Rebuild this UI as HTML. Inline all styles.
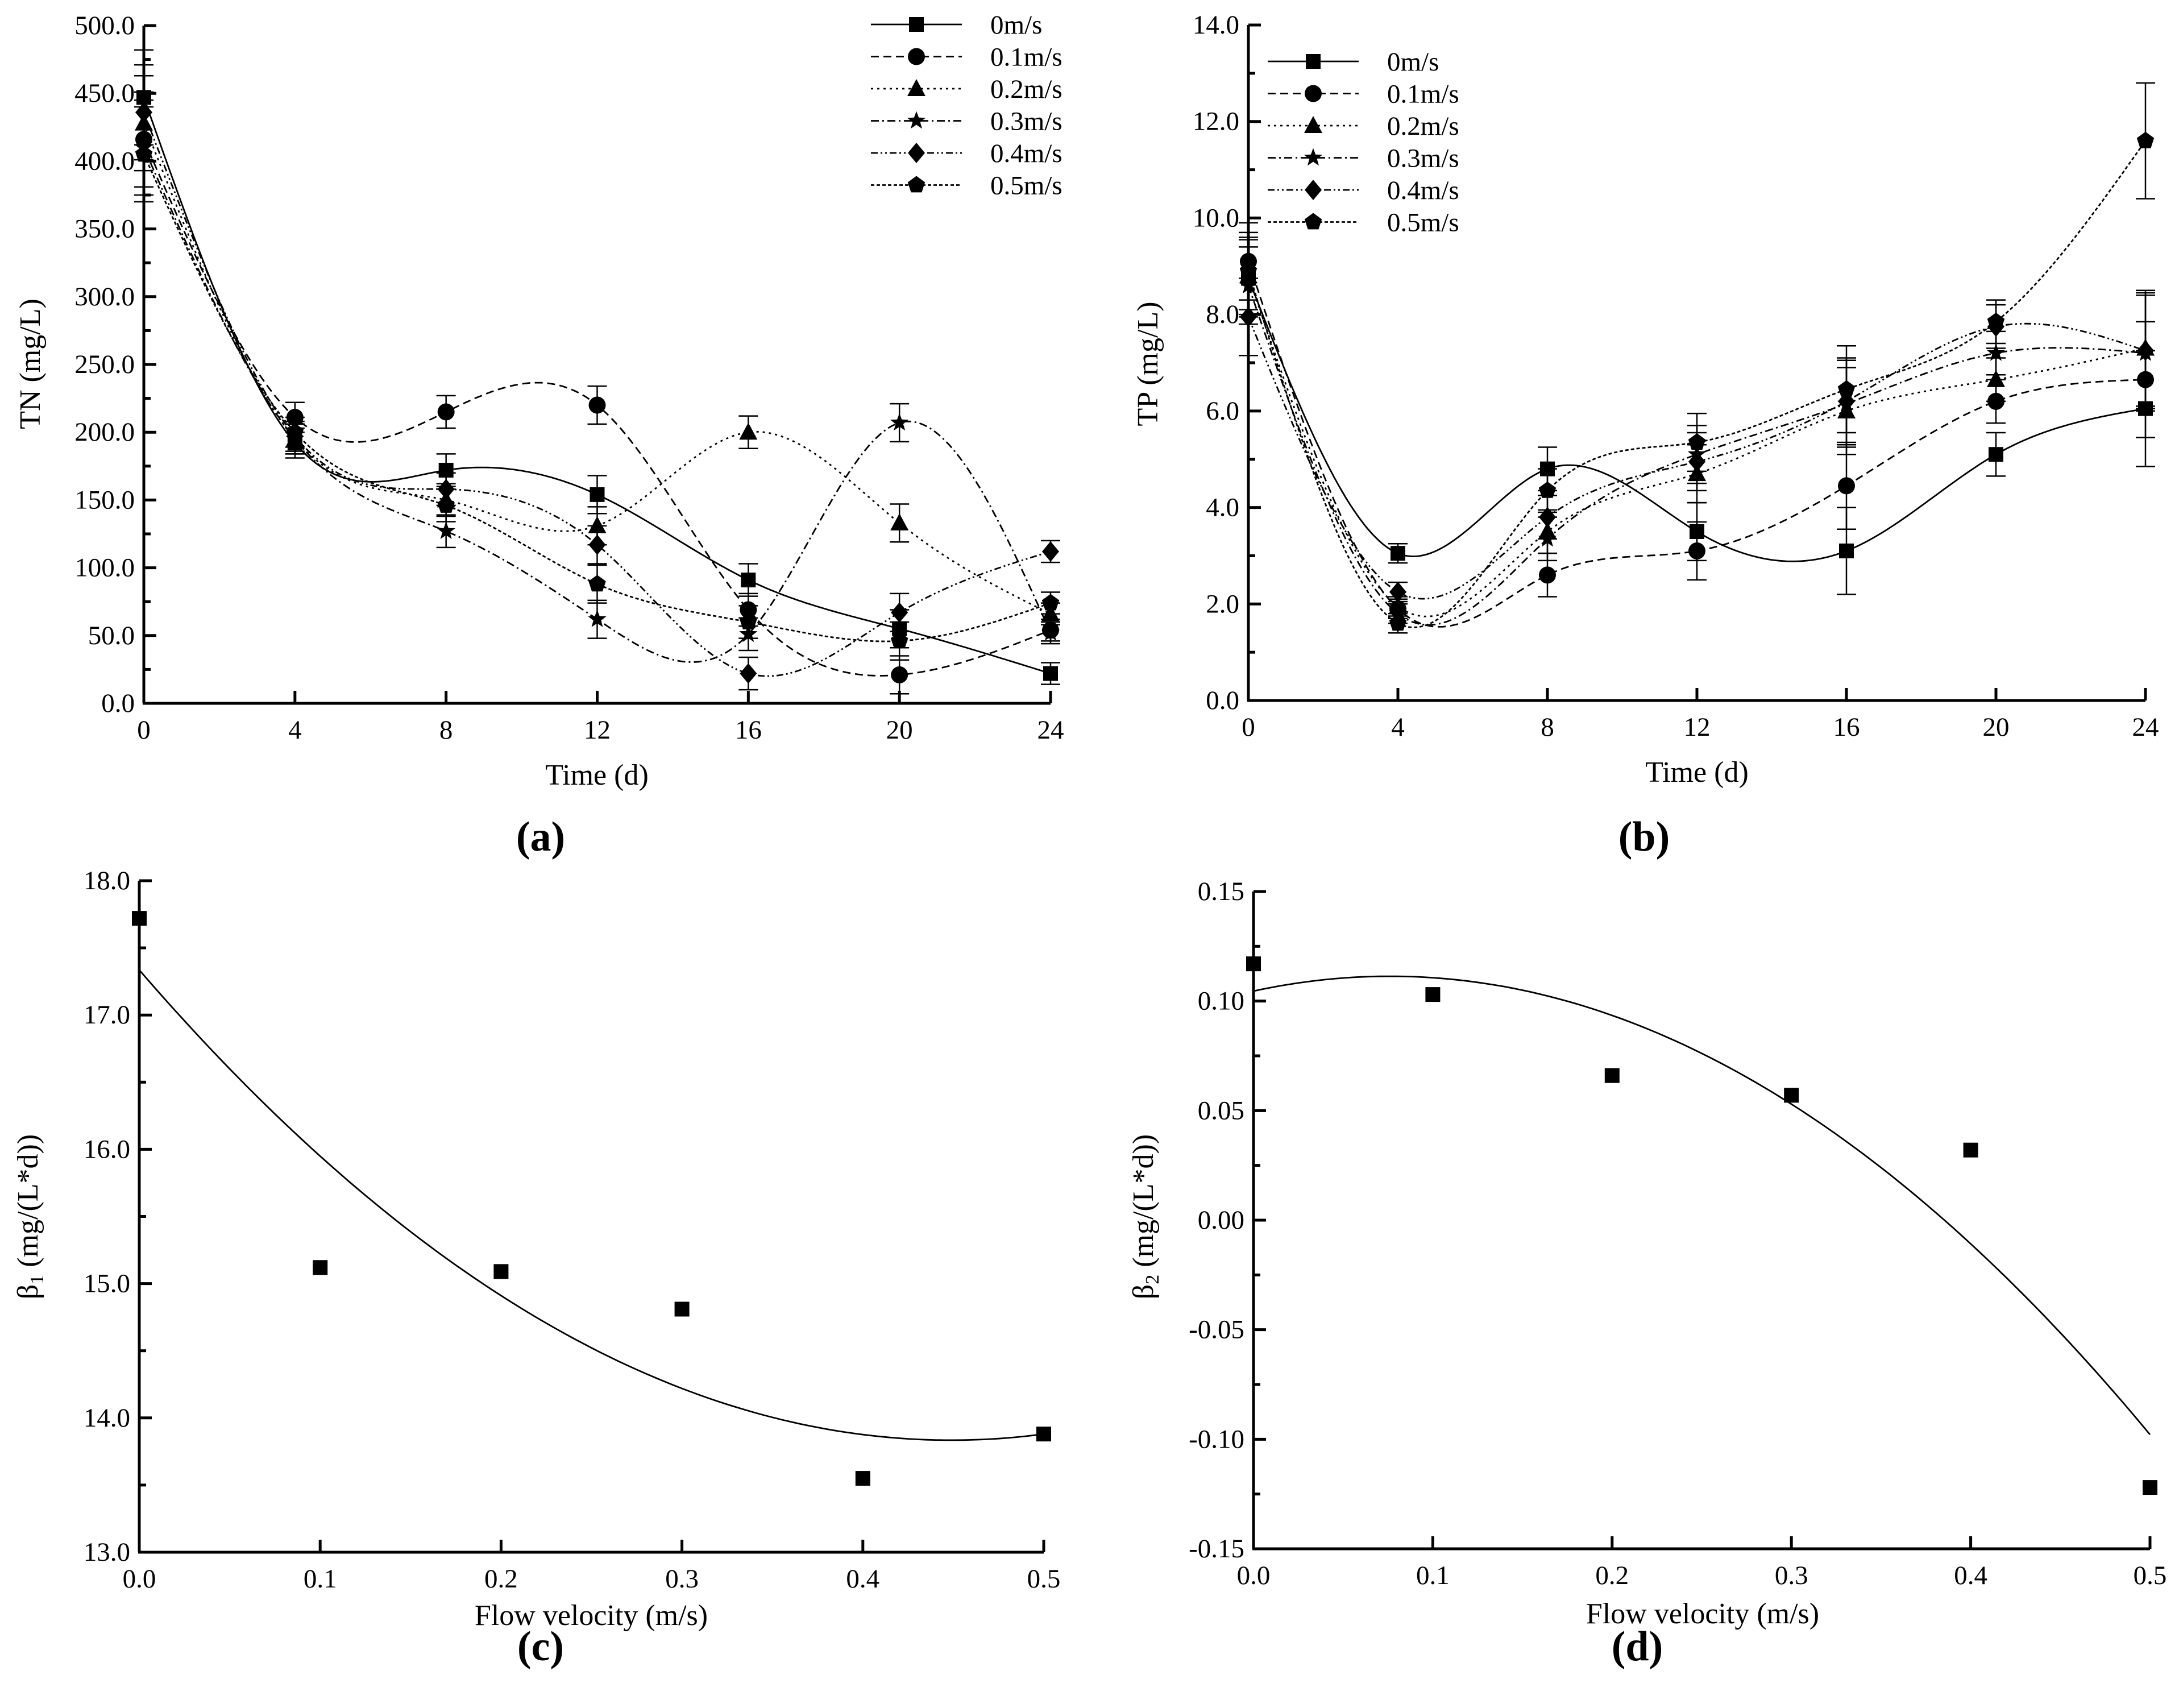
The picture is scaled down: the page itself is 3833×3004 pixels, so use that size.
<!DOCTYPE html>
<html><head><meta charset="utf-8"><style>
html,body{margin:0;padding:0;background:#fff}
svg{display:block}
text{font-family:"Liberation Serif",serif;fill:#000}
</style></head><body>
<svg id="fig" width="3833" height="3004" viewBox="0 0 3833 3004" xmlns="http://www.w3.org/2000/svg"></svg>
<script>
// ---- data ----
const days = [0,4,8,12,16,20,24];
const speeds = ["0m/s","0.1m/s","0.2m/s","0.3m/s","0.4m/s","0.5m/s"];
const tn0 = [447,192,172,154,91,55,22];
const tn1 = [416,211,215,220,69,21,54];
const tn2 = [428,195,150,131,200,133,66];
const tn3 = [410,195,127,62,51,207,52];
const tn4 = [436,197,158,117,22,67,112];
const tn5 = [405,200,146,88,60,46,74];
const tnErr = [35,11,12,14,12,14,8];
const tp0 = [8.75,3.05,4.8,3.5,3.1,5.1,6.05];
const tp1 = [9.1,1.9,2.6,3.1,4.45,6.2,6.65];
const tp2 = [8.8,1.95,3.5,4.7,6.0,6.65,7.3];
const tp3 = [8.6,1.8,3.35,5.1,6.15,7.2,7.2];
const tp4 = [7.95,2.25,3.8,4.95,6.2,7.75,7.25];
const tp5 = [8.9,1.6,4.35,5.35,6.45,7.85,11.6];
const tpErr = [0.8,0.2,0.45,0.6,0.9,0.45,1.2];
const velocities = [0,0.1,0.2,0.3,0.4,0.5];
const beta1 = [17.72,15.12,15.09,14.81,13.55,13.88];
const beta2 = [0.117,0.103,0.066,0.057,0.032,-0.122];
const tnTicks = ["0.0","50.0","100.0","150.0","200.0","250.0","300.0","350.0","400.0","450.0","500.0"];
const tpTicks = ["0.0","2.0","4.0","6.0","8.0","10.0","12.0","14.0"];
const dayTicks = ["0","4","8","12","16","20","24"];
const b1Ticks = ["13.0","14.0","15.0","16.0","17.0","18.0"];
const b2Ticks = ["-0.15","-0.10","-0.05","0.00","0.05","0.10","0.15"];
const velTicks = ["0.0","0.1","0.2","0.3","0.4","0.5"];

const NS="http://www.w3.org/2000/svg";
const svg=document.getElementById('fig');
function el(tag,attrs,parent){const e=document.createElementNS(NS,tag);for(const k in attrs)e.setAttribute(k,attrs[k]);(parent||svg).appendChild(e);return e;}
function txt(s,x,y,size,parent,anchor,extra){const t=el('text',Object.assign({x:x,y:y,'font-size':size,'text-anchor':anchor||'middle'},extra||{}),parent);t.textContent=s;return t;}

function makeScale(d0,d1,r0,r1){return v=>r0+(v-d0)/(d1-d0)*(r1-r0);}

function spline(xs,ys){const n=xs.length;const h=[],al=[0];for(let i=0;i<n-1;i++)h.push(xs[i+1]-xs[i]);
 for(let i=1;i<n-1;i++)al.push(3/h[i]*(ys[i+1]-ys[i])-3/h[i-1]*(ys[i]-ys[i-1]));
 const l=[1],mu=[0],z=[0];for(let i=1;i<n-1;i++){l.push(2*(xs[i+1]-xs[i-1])-h[i-1]*mu[i-1]);mu.push(h[i]/l[i]);z.push((al[i]-h[i-1]*z[i-1])/l[i]);}
 const c=new Array(n).fill(0),b=[],d=[];
 c[n-1]=0;for(let j=n-2;j>=0;j--){c[j]=(j===0?0:z[j]-mu[j]*c[j+1]);}
 for(let j=0;j<n-1;j++){b.push((ys[j+1]-ys[j])/h[j]-h[j]*(c[j+1]+2*c[j])/3);d.push((c[j+1]-c[j])/(3*h[j]));}
 const pts=[];for(let j=0;j<n-1;j++){for(let k=0;k<40;k++){const t=h[j]*k/40;pts.push([xs[j]+t,ys[j]+b[j]*t+c[j]*t*t+d[j]*t*t*t]);}}
 pts.push([xs[n-1],ys[n-1]]);return pts;}

function marker(type,x,y,g){const s=13;let e;
 if(type===0)e=el('rect',{x:x-s,y:y-s,width:2*s,height:2*s,fill:'#000'},g);
 else if(type===1)e=el('circle',{cx:x,cy:y,r:s+2,fill:'#000'},g);
 else if(type===2)e=el('polygon',{points:`${x},${y-s-4} ${x+s+3},${y+s} ${x-s-3},${y+s}`,fill:'#000'},g);
 else if(type===3){let p=[];for(let i=0;i<10;i++){const r=i%2?7:17,a=-Math.PI/2+i*Math.PI/5;p.push((x+r*Math.cos(a)).toFixed(1)+','+(y+r*Math.sin(a)).toFixed(1));}e=el('polygon',{points:p.join(' '),fill:'#000'},g);}
 else if(type===4)e=el('polygon',{points:`${x},${y-18} ${x+15},${y} ${x},${y+18} ${x-15},${y}`,fill:'#000'},g);
 else {let p=[];for(let i=0;i<5;i++){const a=-Math.PI/2+i*2*Math.PI/5;p.push((x+16*Math.cos(a)).toFixed(1)+','+(y+16*Math.sin(a)).toFixed(1));}e=el('polygon',{points:p.join(' '),fill:'#000'},g);}
 return e;}

const dashes=['none','14,8','4,7','14,6,3,6','12,5,3,5,3,5','6,4'];

function axes(g,X,Y,xTicks,xVals,yTicks,yVals,yMinor,x0,y0,x1,y1,fs){
 el('line',{x1:x0,y1:y0,x2:x0,y2:y1,stroke:'#000','stroke-width':5},g);
 el('line',{x1:x0-2,y1:y0,x2:x1,y2:y0,stroke:'#000','stroke-width':5},g);
 xVals.forEach((v,i)=>{const x=X(v);el('line',{x1:x,y1:y0,x2:x,y2:y0-22,stroke:'#000','stroke-width':5},g);txt(xTicks[i],x,y0+62,fs,g);});
 yVals.forEach((v,i)=>{const y=Y(v);el('line',{x1:x0,y1:y,x2:x0+22,y2:y,stroke:'#000','stroke-width':5},g);txt(yTicks[i],x0-16,y+15,fs,g,'end');});
 yMinor.forEach(v=>{const y=Y(v);el('line',{x1:x0,y1:y,x2:x0+12,y2:y,stroke:'#000','stroke-width':5},g);});
}

function linePanel(name,X,Y,series,err,legX,legY){
 const g=el('g',{},svg);
 
 
 series.forEach((ys,si)=>{
  const sg=el('g',{},g);
  
  
  const pts=spline(days,ys);
  const p=el('path',{d:'M'+pts.map(q=>X(q[0]).toFixed(1)+','+Y(q[1]).toFixed(1)).join('L'),fill:'none',stroke:'#000','stroke-width':2.8,'stroke-dasharray':dashes[si]},sg);
  
  
  ys.forEach((v,i)=>{const x=X(days[i]),yt=Y(v+err[i]),yb=Y(v-err[i]);
   const eb=el('path',{d:`M${x},${yt}V${yb}M${x-17},${yt}H${x+17}M${x-17},${yb}H${x+17}`,stroke:'#000','stroke-width':2.5,fill:'none'},sg);
   
   
   const m=marker(si,x,Y(v),sg);
   
   });
  const lg=el('g',{},g);
  
  
  const ly=legY+si*56.5;
  el('line',{x1:legX,y1:ly,x2:legX+160,y2:ly,stroke:'#000','stroke-width':2.8,'stroke-dasharray':dashes[si]},lg);
  marker(si,legX+80,ly,lg);
  txt(speeds[si],legX+210,ly+16,47,lg,'start');
 });
}

function fitQuad(xs,ys){let S=[0,0,0,0,0],T=[0,0,0];xs.forEach((x,i)=>{for(let k=0;k<5;k++)S[k]+=Math.pow(x,k);for(let k=0;k<3;k++)T[k]+=ys[i]*Math.pow(x,k);});
 const A=[[S[0],S[1],S[2],T[0]],[S[1],S[2],S[3],T[1]],[S[2],S[3],S[4],T[2]]];
 for(let i=0;i<3;i++){for(let j=i+1;j<3;j++){const f=A[j][i]/A[i][i];for(let k=i;k<4;k++)A[j][k]-=f*A[i][k];}}
 const c=[0,0,0];for(let i=2;i>=0;i--){let s=A[i][3];for(let k=i+1;k<3;k++)s-=A[i][k]*c[k];c[i]=s/A[i][i];}return c;}

function scatterPanel(name,X,Y,ys){
 const g=el('g',{},svg);
 
 
 const c=fitQuad(velocities,ys);let d='';
 for(let i=0;i<=100;i++){const v=0.5*i/100;d+=(i?'L':'M')+X(v).toFixed(1)+','+Y(c[0]+c[1]*v+c[2]*v*v).toFixed(1);}
 const p=el('path',{d:d,fill:'none',stroke:'#000','stroke-width':2.8},g);
 
 
 ys.forEach((v,i)=>{const m=el('rect',{x:X(velocities[i])-13,y:Y(v)-13,width:26,height:26,fill:'#000'},g);
  
  });
}

const FS=47, TS=52, PS=74;
// Panel a
(function(){const g=el('g',{},svg);
 const X=makeScale(0,24,253,1848),Y=makeScale(0,500,1237,45);
 const minor=[];for(let v=25;v<500;v+=50)minor.push(v);
 axes(g,X,Y,dayTicks,days,tnTicks,tnTicks.map(Number),minor,253,1237,1848,45,FS);
 linePanel('tn',X,Y,[tn0,tn1,tn2,tn3,tn4,tn5],tnErr,1532,43);
 const t1=txt('Time (d)',1050,1380,TS,g);
 const t2=txt('TN (mg/L)',0,0,TS,g,'middle',{transform:'translate(70,640) rotate(-90)'});
 const t3=txt('(a)',951,1496,PS,g,'middle',{'font-family':'Liberation Sans, sans-serif','font-weight':'bold'});
})();
// Panel b
(function(){const g=el('g',{},svg);
 const X=makeScale(0,24,2196,3774),Y=makeScale(0,14,1232,44);
 const minor=[];for(let v=1;v<14;v+=2)minor.push(v);
 axes(g,X,Y,dayTicks,days,tpTicks,tpTicks.map(Number),minor,2196,1232,3774,44,FS);
 linePanel('tp',X,Y,[tp0,tp1,tp2,tp3,tp4,tp5],tpErr,2230,108);
 const t1=txt('Time (d)',2985,1375,TS,g);
 const t2=txt('TP (mg/L)',0,0,TS,g,'middle',{transform:'translate(2036,640) rotate(-90)'});
 const t3=txt('(b)',2892,1496,PS,g,'middle',{'font-family':'Liberation Sans, sans-serif','font-weight':'bold'});
})();
// Panel c
(function(){const g=el('g',{},svg);
 const X=makeScale(0,0.5,245,1836),Y=makeScale(13,18,2730,1549);
 const minor=[];for(let v=13.5;v<18;v+=1)minor.push(v);
 axes(g,X,Y,velTicks,velocities,b1Ticks,b1Ticks.map(Number),minor,245,2730,1836,1549,FS);
 scatterPanel('beta1',X,Y,beta1);
 const t1=txt('Flow velocity (m/s)',1040,2858,TS,g);
 const t2=el('text',{transform:'translate(66,2140) rotate(-90)','font-size':TS,'text-anchor':'middle'},g);t2.innerHTML='β<tspan font-size="34" dy="10">1</tspan><tspan dy="-10"> (mg/(L*d))</tspan>';
 const t3=txt('(c)',951,2920,PS,g,'middle',{'font-family':'Liberation Sans, sans-serif','font-weight':'bold'});
})();
// Panel d
(function(){const g=el('g',{},svg);
 const X=makeScale(0,0.5,2205,3782),Y=makeScale(-0.15,0.15,2724,1568);
 const minor=[];for(let v=-0.125;v<0.15;v+=0.05)minor.push(v);
 axes(g,X,Y,velTicks,velocities,b2Ticks,b2Ticks.map(Number),minor,2205,2724,3782,1568,FS);
 scatterPanel('beta2',X,Y,beta2);
 const t1=txt('Flow velocity (m/s)',2995,2855,TS,g);
 const t2=el('text',{transform:'translate(2028,2140) rotate(-90)','font-size':TS,'text-anchor':'middle'},g);t2.innerHTML='β<tspan font-size="34" dy="10">2</tspan><tspan dy="-10"> (mg/(L*d))</tspan>';
 const t3=txt('(d)',2880,2920,PS,g,'middle',{'font-family':'Liberation Sans, sans-serif','font-weight':'bold'});
})();
</script>
</body></html>
